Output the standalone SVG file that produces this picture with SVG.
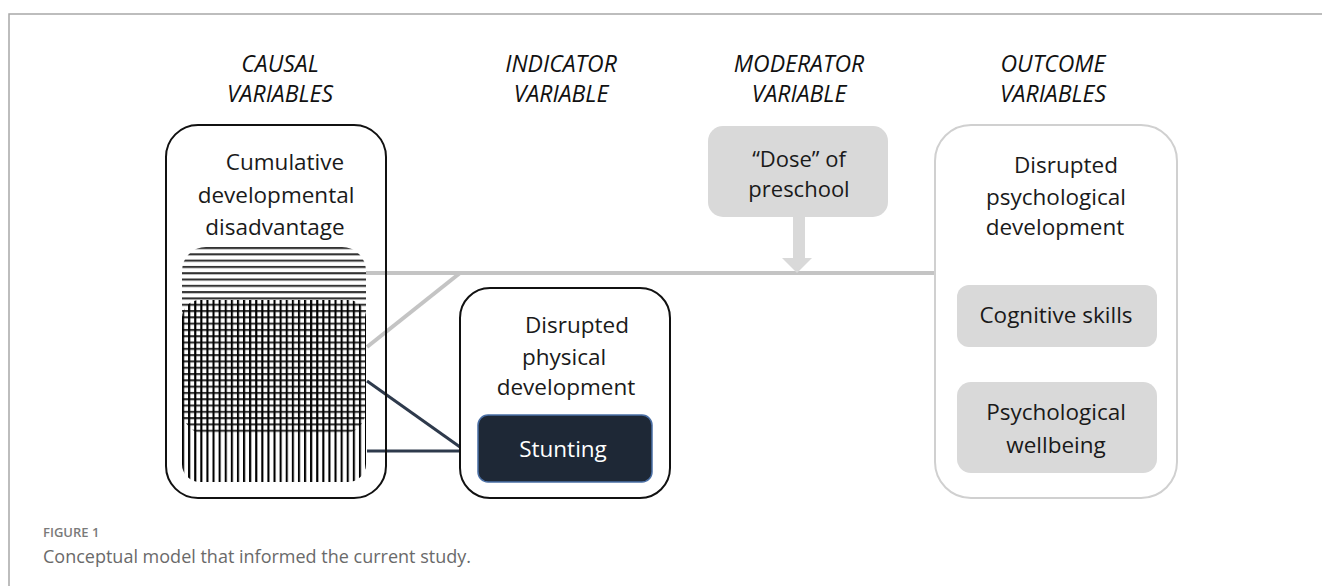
<svg xmlns="http://www.w3.org/2000/svg" width="1322" height="586" viewBox="0 0 1322 586">
  <defs>
    <style>
      .hdr { font-family: "Open Sans", "Liberation Sans", sans-serif; font-style: italic; font-size: 23px; fill: #111; text-anchor: middle; }
      .lbl { font-family: "Open Sans", "Liberation Sans", sans-serif; font-size: 22.5px; fill: #1a1a1a; text-anchor: middle; }
      .grey-conn { stroke: #c4c4c4; stroke-width: 4; fill: none; }
      .navy-conn { stroke: #2e3a4c; stroke-width: 3; fill: none; }
      .cap1 { font-family: "Open Sans", "Liberation Sans", sans-serif; font-size: 13px; font-weight: 600; fill: #7a7a7a; }
      .cap2 { font-family: "Open Sans", "Liberation Sans", sans-serif; font-size: 18px; fill: #6a6a6a; }
    </style>
    <pattern id="hLines" patternUnits="userSpaceOnUse" x="0" y="247" width="6" height="6.3">
      <rect x="0" y="0" width="6" height="2.1" fill="#333"/>
    </pattern>
    <pattern id="vLines" patternUnits="userSpaceOnUse" x="182" y="0" width="6.1" height="6">
      <rect x="0" y="0" width="2.1" height="6" fill="#000"/>
    </pattern>
  </defs>

  <rect width="1322" height="586" fill="#fff"/>
  <!-- frame -->
  <path d="M9,586 V14 H1322" fill="none" stroke="#a8a8a8" stroke-width="1.5"/>

  <!-- headers -->
  <g id="headers">
    <text class="hdr" x="280" y="72">CAUSAL</text>
    <text class="hdr" x="280" y="102">VARIABLES</text>
    <text class="hdr" x="561" y="72">INDICATOR</text>
    <text class="hdr" x="561" y="102">VARIABLE</text>
    <text class="hdr" x="799" y="72">MODERATOR</text>
    <text class="hdr" x="799" y="102">VARIABLE</text>
    <text class="hdr" x="1053" y="72">OUTCOME</text>
    <text class="hdr" x="1053" y="102">VARIABLES</text>
  </g>

  <!-- connectors -->
  <g id="connectors">
    <line class="grey-conn" x1="366" y1="273" x2="935" y2="273"/>
    <line class="grey-conn" x1="367" y1="347" x2="460" y2="273"/>
    <line class="navy-conn" x1="367" y1="381" x2="460" y2="447"/>
    <line class="navy-conn" x1="367" y1="451" x2="460" y2="451"/>
    <rect x="793" y="217" width="12" height="42" fill="#d9d9d9"/>
    <polygon points="782,258 812,258 797,273" fill="#d9d9d9"/>
  </g>

  <!-- causal node -->
  <g id="causal">
    <rect x="166" y="125" width="220" height="373" rx="32" fill="none" stroke="#111" stroke-width="2"/>
    <rect x="182" y="247" width="184" height="187" rx="24" fill="url(#hLines)"/>
    <rect x="182" y="300" width="184" height="182" rx="18" fill="url(#vLines)"/>
    <text class="lbl" x="285" y="170">Cumulative</text>
    <text class="lbl" x="276" y="203">developmental</text>
    <text class="lbl" x="275" y="235">disadvantage</text>
  </g>

  <!-- indicator node -->
  <g id="indicator">
    <rect x="460" y="288" width="210" height="210" rx="30" fill="none" stroke="#111" stroke-width="2"/>
    <text class="lbl" x="577" y="333">Disrupted</text>
    <text class="lbl" x="564" y="365">physical</text>
    <text class="lbl" x="566" y="395">development</text>
  </g>
  <g id="stunting">
    <rect x="478" y="415" width="174" height="67" rx="10" fill="#1e2836" stroke="#4a6fa5" stroke-width="1.5"/>
    <text class="lbl" x="563" y="457" style="fill:#ffffff">Stunting</text>
  </g>

  <!-- moderator node -->
  <g id="moderator">
    <rect x="708" y="126" width="180" height="91" rx="15" fill="#d9d9d9"/>
    <text class="lbl" x="799" y="167" style="font-size:22px">“Dose” of</text>
    <text class="lbl" x="799" y="197" style="font-size:22px">preschool</text>
  </g>

  <!-- outcome node -->
  <g id="outcome">
    <rect x="935" y="125" width="242" height="373" rx="36" fill="none" stroke="#d0d0d0" stroke-width="2"/>
    <text class="lbl" x="1066" y="173">Disrupted</text>
    <text class="lbl" x="1056" y="205">psychological</text>
    <text class="lbl" x="1055" y="235">development</text>
  </g>
  <g id="cognitive">
    <rect x="957" y="285" width="200" height="62" rx="12" fill="#d9d9d9"/>
    <text class="lbl" x="1056" y="323">Cognitive skills</text>
  </g>
  <g id="wellbeing">
    <rect x="957" y="382" width="200" height="91" rx="14" fill="#d9d9d9"/>
    <text class="lbl" x="1056" y="420">Psychological</text>
    <text class="lbl" x="1056" y="453">wellbeing</text>
  </g>

  <!-- caption -->
  <g id="caption">
    <text class="cap1" x="43" y="537">FIGURE 1</text>
    <text class="cap2" x="43" y="563">Conceptual model that informed the current study.</text>
  </g>
</svg>
